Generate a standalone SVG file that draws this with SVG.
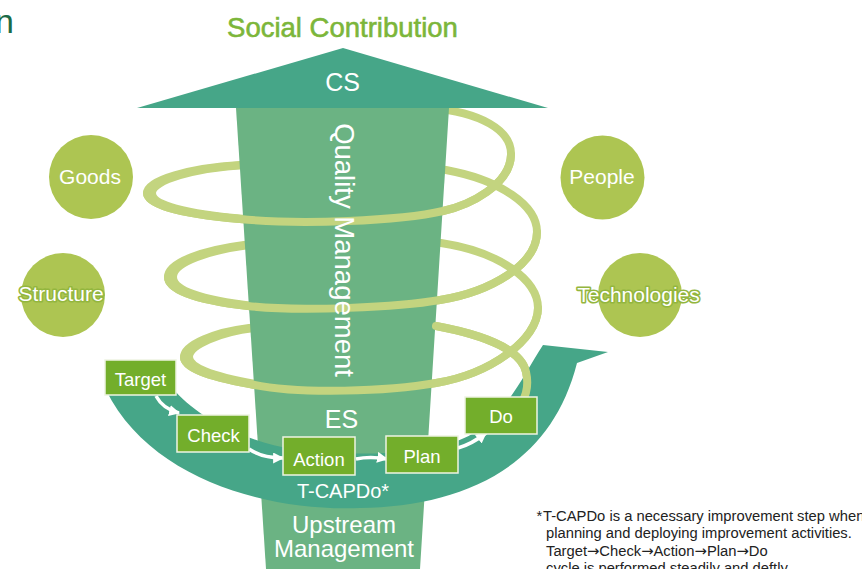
<svg xmlns="http://www.w3.org/2000/svg" width="862" height="569" viewBox="0 0 862 569">
<style>
text{font-family:"Liberation Sans",Arial,sans-serif}
.sp{fill:none;stroke:#c3d47f;stroke-width:8;stroke-linecap:round}
.spx{fill:none;stroke:#c3d47f;stroke-width:8;stroke-linecap:butt}
.box{fill:#73ae2b;stroke:#eef4e2;stroke-width:1.5}
.bt{fill:#fff;font-size:18.5px;text-anchor:middle}
.circ{fill:#adc552}
.ct{fill:#fff;font-size:21px;text-anchor:middle}
.ol{stroke:#93b63e;stroke-width:3.2;paint-order:stroke;stroke-linejoin:round}
.flow{fill:none;stroke:#fff;stroke-width:3.5}
.wt{fill:#fff;text-anchor:middle}
.note{fill:#222;font-size:14.75px}
</style>
<defs>
<marker id="ah" viewBox="0 0 10 10" refX="9" refY="5" markerWidth="11" markerHeight="11" markerUnits="userSpaceOnUse" orient="auto">
<path d="M0,0 L10,5 L0,10 Z" fill="#fff"/>
</marker>
</defs>

<text x="-5" y="33" font-size="34" fill="#1b6b47">n</text>

<g id="social">
<text x="342.5" y="37" font-size="27.5" fill="#7cb63a" stroke="#7cb63a" stroke-width="0.6" text-anchor="middle">Social Contribution</text>
</g>

<g id="spiral-back">
<path class="sp" d="M 430 108 C 480 112, 512 130, 511 155 C 510 185, 470 205, 443 211 C 400 221, 300 225, 240 219 C 180 214, 147 205, 147 193 C 147 180, 190 168, 240 165 C 300 161, 400 163, 446 170 C 500 180, 537 205, 537 232 C 537 265, 490 292, 440 300 C 400 307, 300 312, 248 306 C 195 300, 168 290, 168 277 C 168 262, 205 250, 244 245 C 320 238, 400 238, 441 243 C 500 252, 538 280, 538 308 C 538 340, 490 374, 436 383 C 390 391, 300 395, 250 384 C 205 376, 184 367, 184 357 C 184 345, 215 332, 249 328 C 320 320, 400 320, 436 326 C 490 336, 522 352, 526 372 C 529 385, 526 395, 522 402"/>
<path class="spx" d="M 245 219 C 185 214, 152 205, 152 193 C 152 180, 195 168, 245 165"/>
<path class="spx" d="M 253 306 C 200 300, 173 290, 173 277 C 173 262, 210 250, 249 245"/>
<path class="spx" d="M 255 384 C 210 376, 189 367, 189 357 C 189 345, 220 332, 254 328"/>
</g>

<g id="trunk">
<polygon points="236,108 449,108 420,569 266,569" fill="#6bb383"/>
</g>

<g id="cs-arrow">
<polygon points="137,108 548,108 343,48" fill="#46a688"/>
<text class="wt" x="342.5" y="91" font-size="25">CS</text>
</g>

<g id="tcapdo-arc">
<path d="M 106 390 C 150 480, 270 512, 360 508 C 460 506, 550 470, 577 363 L 608 352 L 543 345 C 520 380, 500 430, 450 443 C 410 452, 380 455, 343 453 C 280 455, 210 430, 175 391 Z" fill="#46a688"/>
<text class="wt" x="343" y="498" font-size="20">T-CAPDo*</text>
</g>

<g id="spiral-front">
<path class="sp" d="M 511 155 C 510 185, 470 205, 443 211 C 400 221, 300 225, 240 219 C 180 214, 147 205, 147 193"/>
<path class="sp" d="M 537 232 C 537 265, 490 292, 440 300 C 400 307, 300 312, 248 306 C 195 300, 168 290, 168 277"/>
<path class="sp" d="M 538 308 C 538 340, 490 374, 436 383 C 390 391, 300 395, 250 384 C 205 376, 184 367, 184 357"/>
<path class="sp" d="M 436 326 C 490 336, 522 352, 526 372 C 529 385, 526 395, 522 402"/>
</g>

<g id="quality">
<text class="wt" transform="translate(335,250) rotate(90)" font-size="27.5">Quality Management</text>
</g>

<g id="es">
<text class="wt" x="341.5" y="428" font-size="25">ES</text>
</g>

<g id="upstream">
<text class="wt" x="344" y="533" font-size="24">Upstream</text>
<text class="wt" x="344" y="557" font-size="24">Management</text>
</g>

<g id="goods">
<circle class="circ" cx="91" cy="177" r="42"/>
<text class="ct" x="90" y="184">Goods</text>
</g>
<g id="structure">
<circle class="circ" cx="63" cy="295" r="42"/>
<text class="ct ol" x="61" y="301">Structure</text>
</g>
<g id="people">
<circle class="circ" cx="602.5" cy="177.5" r="42"/>
<text class="ct" x="602" y="184">People</text>
</g>
<g id="technologies">
<circle class="circ" cx="640" cy="295" r="42"/>
<text class="ct ol" x="638.5" y="302">Technologies</text>
</g>

<g id="connectors">
<path class="flow" marker-end="url(#ah)" d="M 156 396 Q 163 409 179 413"/>
<path class="flow" marker-end="url(#ah)" d="M 249 449 Q 262 458 283 458"/>
<path class="flow" marker-end="url(#ah)" d="M 356 459 Q 370 456 387 459"/>
<path class="flow" marker-end="url(#ah)" d="M 458 448 Q 472 444 486 433"/>
</g>

<g id="target">
<rect class="box" x="105" y="360" width="71" height="35"/>
<text class="bt" x="140.5" y="386">Target</text>
</g>
<g id="check">
<rect class="box" x="177" y="415" width="72" height="37"/>
<text class="bt" x="213.5" y="441.5">Check</text>
</g>
<g id="action">
<rect class="box" x="283" y="437" width="72" height="38"/>
<text class="bt" x="319" y="465.5">Action</text>
</g>
<g id="plan">
<rect class="box" x="386" y="436" width="72" height="37"/>
<text class="bt" x="422" y="463">Plan</text>
</g>
<g id="do">
<rect class="box" x="465" y="397" width="72" height="37"/>
<text class="bt" x="501" y="422.5">Do</text>
</g>

<g id="footnote">
<text class="note" x="536.5" y="521" font-size="12">*</text>
<text class="note" x="543" y="521">T-CAPDo is a necessary improvement step when</text>
<text class="note" x="546" y="538">planning and deploying improvement activities.</text>
<text class="note" x="546" y="555.5">Target<tspan font-family="DejaVu Sans">→</tspan>Check<tspan font-family="DejaVu Sans">→</tspan>Action<tspan font-family="DejaVu Sans">→</tspan>Plan<tspan font-family="DejaVu Sans">→</tspan>Do</text>
<text class="note" x="546" y="573">cycle is performed steadily and deftly.</text>
</g>
</svg>
